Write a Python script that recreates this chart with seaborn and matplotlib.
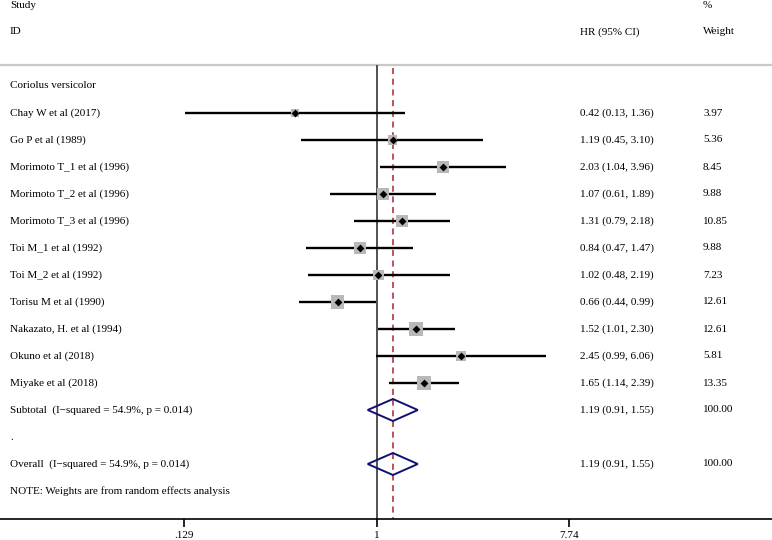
import numpy as np
import pandas as pd
import matplotlib
matplotlib.use("Agg")
import matplotlib.pyplot as plt
import matplotlib.transforms as mtransforms
import seaborn as sns

# ---------------- data ----------------
group_label = "Coriolus versicolor"
studies = ["Chay W et al (2017)", "Go P et al (1989)", "Morimoto T_1 et al (1996)",
           "Morimoto T_2 et al (1996)", "Morimoto T_3 et al (1996)", "Toi M_1 et al (1992)",
           "Toi M_2 et al (1992)", "Torisu M et al (1990)", "Nakazato, H. et al (1994)",
           "Okuno et al (2018)", "Miyake et al (2018)"]
hr = [0.42, 1.19, 2.03, 1.07, 1.31, 0.84, 1.02, 0.66, 1.52, 2.45, 1.65]
ci_low = [0.13, 0.45, 1.04, 0.61, 0.79, 0.47, 0.48, 0.44, 1.01, 0.99, 1.14]
ci_high = [1.36, 3.10, 3.96, 1.89, 2.18, 1.47, 2.19, 0.99, 2.30, 6.06, 2.39]
weights = [3.97, 5.36, 8.45, 9.88, 10.85, 9.88, 7.23, 12.61, 12.61, 5.81, 13.35]
pooled_hr, pooled_low, pooled_high = 1.19, 0.91, 1.55
subtotal_label = "Subtotal  (I\u2212squared = 54.9%, p = 0.014)"
overall_label = "Overall  (I\u2212squared = 54.9%, p = 0.014)"
note_label = "NOTE: Weights are from random effects analysis"
tick_values = [0.129, 1, 7.74]
tick_labels = [".129", "1", "7.74"]

# ---------------- layout ----------------
W, H = 772, 540
sns.set_theme(style="white")
plt.rcParams['font.family'] = ['Liberation Serif', 'DejaVu Serif']
plt.rcParams['font.size'] = 8

fig = plt.figure(figsize=(W / 100, H / 100), dpi=100)
axis_px = 519
ax = fig.add_axes([0, (H - axis_px) / H, 1, axis_px / H])

# x: log scale anchored so that .129 -> px 184 and 7.74 -> px 569
px_lo, px_hi = 184, 569
ppl = (px_hi - px_lo) / (np.log(tick_values[-1]) - np.log(tick_values[0]))
x_one_px = px_lo + (0 - np.log(tick_values[0])) * ppl
xmin = np.exp(-x_one_px / ppl)
xmax = np.exp((W - x_one_px) / ppl)
ax.set_xscale("log")
ax.set_xlim(xmin, xmax)

# y: row units, row k at px 86 + 27k
row0, rstep = 86, 27
ax.set_ylim((axis_px - row0) / rstep, (0 - row0) / rstep)

n = len(studies)
rows = np.arange(1, n + 1)
df = pd.DataFrame({"study": studies, "hr": hr, "lo": ci_low, "hi": ci_high,
                   "w": weights, "row": rows})
max_area = 105.0
df["area"] = max_area * df["w"] / df["w"].max()

sep_y = (65 - row0) / rstep
# separator
ax.axhline(sep_y, color="#c8c8c8", lw=1.6, zorder=1)
# reference lines
ax.vlines(1, sep_y, ax.get_ylim()[0], color="#333333", lw=1.2, zorder=2)
ax.vlines(pooled_hr, sep_y + 0.1, ax.get_ylim()[0], color="#a0282d", lw=1.1,
          linestyles=(0, (4, 3)), zorder=2)

# CI lines
ax.hlines(df["row"], df["lo"], df["hi"], color="black", lw=1.7, zorder=3)
# weight squares (area proportional to weight)
sns.scatterplot(data=df, x="hr", y="row", marker="s", color="#b8b8b8",
                s=df["area"].to_numpy(), linewidth=0, legend=False, ax=ax, zorder=4)
# point estimates
sns.scatterplot(data=df, x="hr", y="row", marker="D", color="black", s=16,
                linewidth=0, legend=False, ax=ax, zorder=5)

# diamonds
sub_row, dot_row, ov_row, note_row = n + 1, n + 2, n + 3, n + 4
half_h = 11 / rstep
for r in (sub_row, ov_row):
    ax.fill([pooled_low, pooled_hr, pooled_high, pooled_hr, pooled_low],
            [r, r - half_h, r, r + half_h, r], facecolor="none",
            edgecolor="#101070", lw=1.4, zorder=5)

# texts
lab = mtransforms.blended_transform_factory(fig.transFigure, ax.transData)
x_text, x_hr, x_w = 10 / W, 580 / W, 703 / W
kw = dict(transform=lab, va="center", ha="left", fontsize=8, color="black")
ax.text(x_text, -3.0, "Study", **kw)
ax.text(x_text, -2.0, "ID", **kw)
ax.text(x_hr, -2.0, "HR (95% CI)", **kw)
ax.text(x_w, -3.0, "%", **kw)
ax.text(x_w, -2.0, "Weight", **kw)
ax.text(x_text, 0, group_label, **kw)
for s, h, l, u, w, r in zip(studies, hr, ci_low, ci_high, weights, rows):
    ax.text(x_text, r, s, **kw)
    ax.text(x_hr, r, f"{h:.2f} ({l:.2f}, {u:.2f})", **kw)
    ax.text(x_w, r, f"{w:.2f}", **kw)
for r, label in ((sub_row, subtotal_label), (ov_row, overall_label)):
    ax.text(x_text, r, label, **kw)
    ax.text(x_hr, r, f"{pooled_hr:.2f} ({pooled_low:.2f}, {pooled_high:.2f})", **kw)
    ax.text(x_w, r, f"{sum(weights):.2f}", **kw)
ax.text(x_text, dot_row, ".", **kw)
ax.text(x_text, note_row, note_label, **kw)

# axis styling
for sp in ("left", "right", "top"):
    ax.spines[sp].set_visible(False)
ax.spines["bottom"].set_color("black")
ax.spines["bottom"].set_linewidth(1.2)
ax.set_yticks([])
ax.set_xticks(tick_values)
ax.set_xticklabels(tick_labels)
ax.xaxis.set_minor_locator(matplotlib.ticker.NullLocator())
ax.tick_params(axis="x", bottom=True, length=6, width=1.2, color="black", pad=3,
               labelsize=8, labelcolor="black")
ax.set_xlabel("")
ax.set_ylabel("")
ax.set_facecolor("white")
fig.patch.set_facecolor("white")

fig.savefig("out.png", dpi=100, facecolor="white")
